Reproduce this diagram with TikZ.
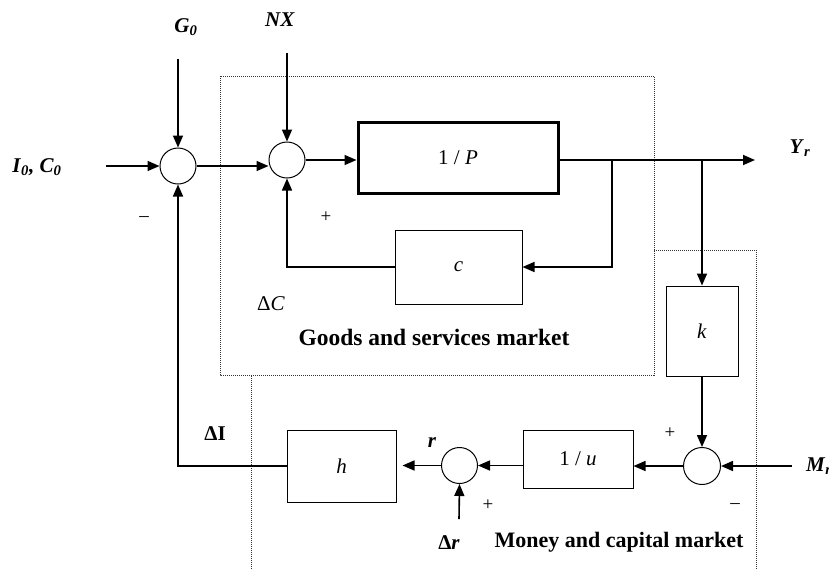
\documentclass[tikz,border=0pt]{standalone}
\usepackage{fontspec}
\setmainfont{Liberation Serif}
\usetikzlibrary{arrows.meta}
\tikzset{
  lbl/.style={font=\fontsize{21}{24}\selectfont, inner sep=0pt},
  sgn/.style={font=\fontsize{19}{22}\selectfont, inner sep=0pt},
  ttl/.style={font=\fontsize{23.5}{26}\selectfont\bfseries, inner sep=0pt},
  arr/.style={line width=1.6pt,-{Triangle[length=12pt,width=10pt]}},
  conn/.style={line width=1.6pt},
  blk/.style={draw,line width=1pt,rectangle,inner sep=0pt,font=\fontsize{21}{24}\selectfont},
  sumc/.style={draw,circle,line width=1pt,minimum size=36pt,inner sep=0pt},
  dotbox/.style={line width=1pt,dash pattern=on 1pt off 1pt,black!80},
}
\begin{document}
\begin{tikzpicture}[x=1pt,y=-1pt]
\useasboundingbox[fill=white] (0,0) rectangle (829,571);

% dotted market boxes
\draw[dotbox] (220,76) rectangle (654,375);
\draw[dotbox] (251,569) -- (251,375);
\draw[dotbox] (654,250) -- (756,250) -- (756,569);

% blocks
\node[sumc] (c1) at (178,166) {};
\node[sumc] (c2) at (287,160) {};
\node[blk,line width=3pt,minimum width=200pt,minimum height=71pt] (P) at (458,157.5) {1 / \textit{P}};
\node[blk,minimum width=127pt,minimum height=74pt] (cb) at (458.5,267) {\textit{c}};
\node[blk,minimum width=72pt,minimum height=90pt] (kb) at (702,331) {\textit{k}};
\node[blk,minimum width=110pt,minimum height=58pt] (ub) at (578,459) {1 / \textit{u}};
\node[sumc,minimum size=37pt] (c3) at (702,466) {};
\node[sumc] (c4) at (459.5,465.5) {};
\node[blk,minimum width=109pt,minimum height=72pt] (hb) at (341.5,466) {\textit{h}};

% free ends
\coordinate (i0) at (106,166);
\coordinate (g0) at (178,59);
\coordinate (nx) at (287,53);
\coordinate (yr) at (755,160);
\coordinate (b1) at (612,160);
\coordinate (b2) at (702,160);
\coordinate (mr) at (792,466);
\coordinate (dr) at (459,519);

% connectors
\draw[arr] (i0) -- (c1.west);
\draw[arr] (g0) -- (c1.north);
\draw[arr] (nx) -- (c2.north);
\draw[arr] (c1.east) -- (c1.east -| c2.west);
\draw[arr] (c2.east) -- (c2.east -| P.west);
\draw[arr] (P.east |- yr) -- (yr);
\draw[arr] (b1) |- (cb.east);
\draw[arr] (b2) -- (kb.north);
\draw[arr] (cb.west) -| (c2.south);
\draw[arr] (kb.south) -- (c3.north);
\draw[arr] (mr) -- (c3.east);
\draw[arr] (c3.west) -- (c3.west -| ub.east);
\draw[arr] (c4.east -| ub.west) -- (c4.east);
\draw[arr,shorten >=6pt] (c4.west) -- (c4.west -| hb.east);
\draw[arr] (dr) -- (c4.south);
\draw[arr] (hb.west) -| (c1.south);

% labels
\node[lbl] (lg0) at (186,27) {\textbf{\textit{G}\textsubscript{\textit{0}}}};
\node[lbl] (lnx) at (280,20) {\textbf{\textit{NX}}};
\node[lbl] (li0) at (37,167) {\textbf{\textit{I}\textsubscript{\textit{0}}\textit{, C}\textsubscript{\textit{0}}}};
\node[sgn] (m1) at (144,219) {–};
\node[sgn] (p1) at (326,217) {+};
\node[lbl] (ldc) at (271,304) {Δ\textit{C}};
\node[ttl] (lgs) at (434,337) {Goods and services market};
\node[lbl] (lyr) at (800,148) {\textbf{\textit{Y}\textsubscript{\textit{r}}}};
\node[lbl] (ldi) at (215,434) {\textbf{ΔI}};
\node[lbl] (lr) at (432,443) {\textbf{\textit{r}}};
\node[sgn] (p2) at (670,433) {+};
\node[sgn] (m2) at (735,506) {–};
\node[sgn] (p3) at (488,505) {+};
\node[lbl] (ldr) at (449,543) {\textbf{Δ\textit{r}}};
\node[ttl,font=\fontsize{22}{25}\selectfont\bfseries] (lmc) at (619,542) {Money and capital market};
\node[lbl,anchor=west] (lmr) at (806,466) {\textbf{\textit{M}\textsubscript{\textit{r}}}};
\end{tikzpicture}
\end{document}
